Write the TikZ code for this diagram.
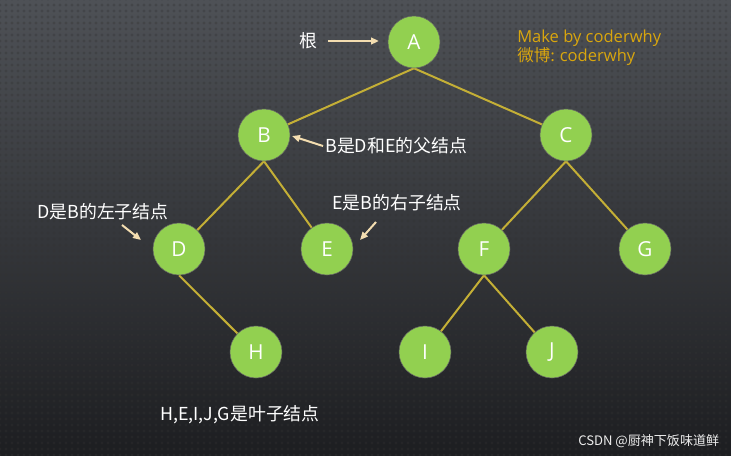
\documentclass[tikz,border=0pt]{standalone}
\usepackage{fontspec}
\setmainfont{Noto Sans CJK SC}
\newfontfamily\latinf{Open Sans}
\usetikzlibrary{patterns.meta,arrows.meta}
\pgfdeclarelayer{bglayer}
\pgfdeclarelayer{edgelayer}
\pgfsetlayers{bglayer,edgelayer,main}
\definecolor{nodegreen}{HTML}{92D050}
\definecolor{edgecol}{HTML}{C4AF36}
\definecolor{arrowcol}{HTML}{F3DDB0}
\definecolor{gold}{HTML}{D9A60E}
\definecolor{bgtop}{HTML}{4E5156}
\definecolor{bgbot}{HTML}{1D1E21}
\begin{document}
\begin{tikzpicture}[x=0.75pt,y=-0.75pt,
  tnode/.style={circle,fill=nodegreen,draw=black!60,line width=0.4pt,minimum size=39pt,inner sep=0pt,text=white,font=\latinf\fontsize{15.5}{15.5}\selectfont},
  tedge/.style={draw=edgecol,line width=1.5pt},
  note/.style={text=white,font=\fontsize{13.4}{15}\selectfont,inner sep=0pt,anchor=west},
  pointer/.style={draw=arrowcol,line width=1.5pt,-{Triangle[length=6pt,width=5pt]}}]
\begin{pgfonlayer}{bglayer}
\shade[top color=bgtop,bottom color=bgbot] (0,0) rectangle (731,455);
\fill[pattern={Dots[radius=1.2pt,distance=4.5pt]},pattern color=black!80,opacity=0.35] (0,0) rectangle (731,455);
\end{pgfonlayer}
\useasboundingbox (0,0) rectangle (731,455);
% nodes
\node[tnode] (A) at (414,42) {A};
\node[tnode] (B) at (264,135) {B};
\node[tnode] (C) at (566,135) {C};
\node[tnode] (D) at (179,249) {D};
\node[tnode] (E) at (327,249) {E};
\node[tnode] (F) at (484,249) {F};
\node[tnode] (G) at (645,249) {G};
\node[tnode] (H) at (256,352) {H};
\node[tnode] (I) at (425,352) {I};
\node[tnode] (J) at (552,352) {J};
% edges
\begin{pgfonlayer}{edgelayer}
\path[tedge] (A.south) -- (B.center);
\path[tedge] (A.south) -- (C.center);
\path[tedge] (B.south) -- (D.center);
\path[tedge] (B.south) -- (E.center);
\path[tedge] (C.south) -- (F.center);
\path[tedge] (C.south) -- (G.center);
\path[tedge] (D.south) -- (H.center);
\path[tedge] (F.south) -- (I.center);
\path[tedge] (F.south) -- (J.center);
\end{pgfonlayer}
% labels
\node[note] (root) at (299,41) {根};
\coordinate (rootS) at (328,41);
\coordinate (rootTip) at (379,41);
\draw[pointer] (rootS) -- (rootTip);
\node[note] (lb) at (325,146) {B是D和E的父结点};
\coordinate (lbS) at (323,146);
\coordinate (lbTip) at (292,136);
\draw[pointer] (lbS) -- (lbTip);
\node[note] (ld) at (37,212) {D是B的左子结点};
\coordinate (ldS) at (122,225);
\coordinate (ldT) at (141,240);
\draw[pointer] (ldS) -- (ldT);
\node[note] (le) at (332,203) {E是B的右子结点};
\coordinate (leS) at (376,222);
\coordinate (leT) at (360,240);
\draw[pointer] (leS) -- (leT);
\node[note] (leaf) at (160,415) {H,E,I,J,G是叶子结点};
\node[text=gold,font=\latinf\fontsize{12.4}{14}\selectfont,inner sep=0pt,anchor=west] (mk) at (517,38) {Make by coderwhy};
\node[text=gold,font=\fontsize{12.4}{14}\selectfont,inner sep=0pt,anchor=west] (wb) at (517,57) {微博: {\latinf coderwhy}};
\node[text=white!85!gray,font=\fontsize{9.8}{11}\selectfont,inner sep=0pt,anchor=west] (csdn) at (578,441) {CSDN @厨神下饭味道鲜};
\end{tikzpicture}
\end{document}
